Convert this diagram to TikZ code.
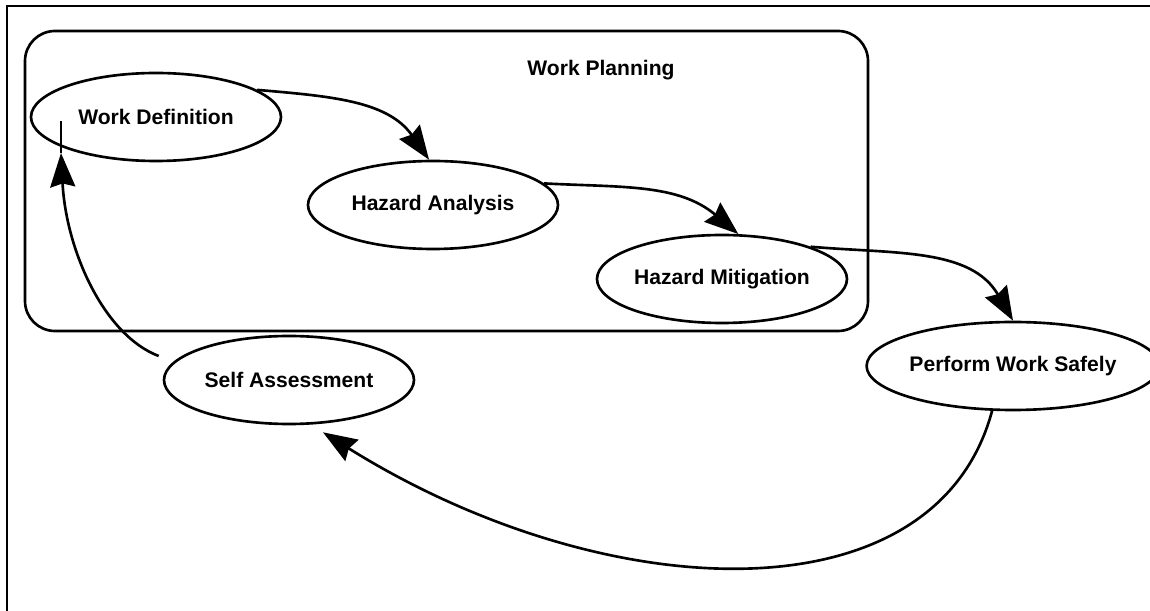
\documentclass[tikz,border=0pt]{standalone}
\usepackage{fontspec}
\setmainfont{Liberation Sans}
\usetikzlibrary{shapes.geometric,arrows.meta,positioning}

\begin{document}
\begin{tikzpicture}[on grid,
		stage/.style={ellipse,draw,line width=1.5pt,minimum width=5cm,minimum height=1.76cm,inner sep=0pt,
			font=\bfseries\fontsize{12}{14}\selectfont},
		planbox/.style={draw,line width=1.5pt,rounded corners=0.6cm,minimum width=16.86cm,minimum height=6cm},
		marrow/.style={-{Stealth[length=0.68cm,width=0.5cm,inset=0.07cm]},line width=1.5pt}]
		\useasboundingbox (0,0) rectangle (23,-12.22);
		\draw[line width=1.5pt] (23,-0.12) -- (0.14,-0.12) -- (0.14,-12.22);

		\node[planbox] (plan) at (8.93,-3.62) {};
		\node[font=\bfseries\fontsize{12}{14}\selectfont] (plantitle) at (12.02,-1.4) {Work Planning};

		\node[stage] (wd) at (3.12,-2.34) {Work Definition};
		\node[stage] (ha) [below right=1.76cm and 5.54cm of wd] {Hazard Analysis};
		\node[stage] (hm) [below right=1.48cm and 5.78cm of ha] {Hazard Mitigation};
		\node[stage] (pws) [below right=1.74cm and 5.82cm of hm] {Perform Work Safely};
		\node[stage] (sa) [below right=5.26cm and 2.66cm of wd] {Self Assessment};

		\coordinate (saIn) at ([xshift=0.68cm,yshift=-0.14cm]sa.south);
		\coordinate (saOut) at ([xshift=-0.08cm,yshift=0.48cm]sa.west);
		\coordinate (wdIn) at ([xshift=-1.9cm,yshift=-0.72cm]wd.center);
		\coordinate (wdEnd) at ([xshift=-1.9cm,yshift=-0.08cm]wd.center);

		% connection
		\draw [marrow] (wd.15) to [out=-5,in=125] (ha.95);
		\draw [marrow] (ha.11) to [out=-3,in=140] (hm.70);
		\draw [marrow] (hm.20) to [out=-5,in=120] (pws.north);
		\draw [marrow] (pws.-115) .. controls +(-1.14,-4.24) and +(5.6,-3.5) .. (saIn);
		\draw [marrow] (saOut) .. controls +(-1.1,0.42) and +(0.1,-1.94) .. (wdIn);
		\draw [line width=1.5pt] (wdIn) -- (wdEnd);
	\end{tikzpicture}
\end{document}
